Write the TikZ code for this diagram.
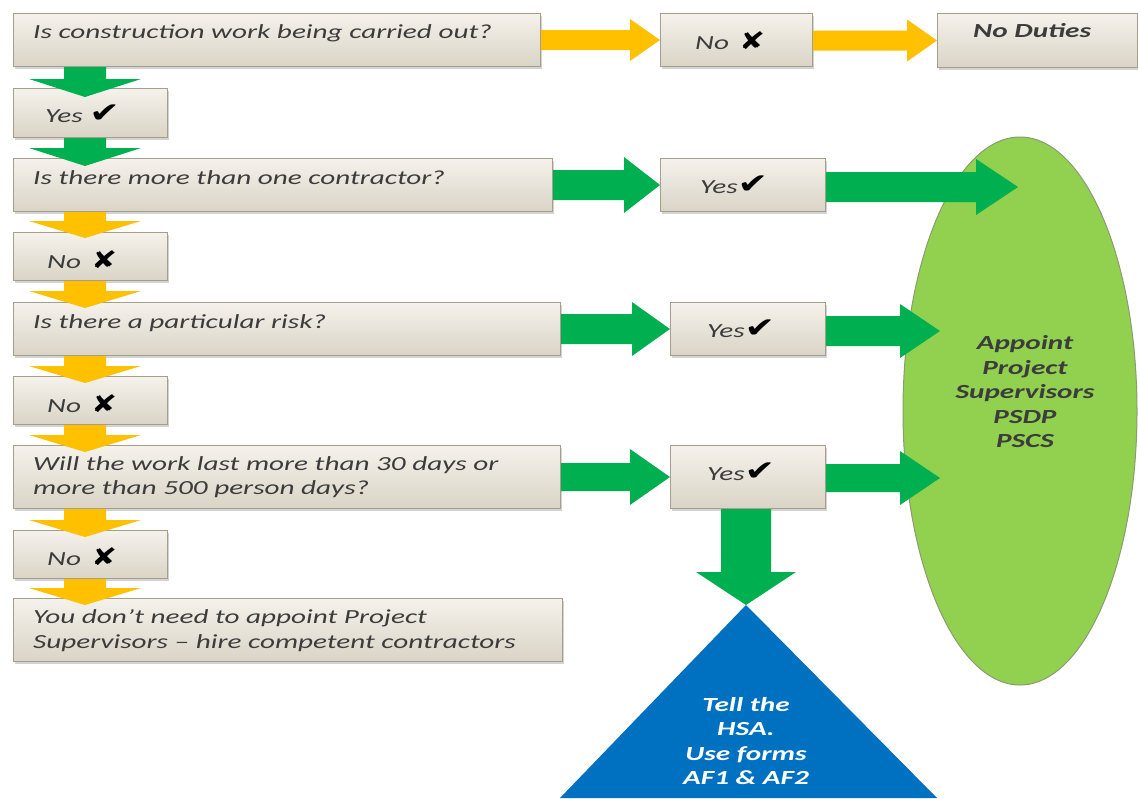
\documentclass[tikz,border=0pt]{standalone}
\usepackage{fontspec}
\setmainfont{Carlito}[FakeStretch=1.46]
\newfontfamily\symf{DejaVu Sans}[FakeStretch=1.3]
\usetikzlibrary{shapes.geometric,shadows,calc}
\definecolor{boxtop}{HTML}{F5F2EC}
\definecolor{boxbot}{HTML}{DAD4C6}
\definecolor{boxline}{HTML}{A59E8A}
\definecolor{oran}{HTML}{FFC000}
\definecolor{gree}{HTML}{00B050}
\definecolor{lime}{HTML}{92D050}
\definecolor{limeline}{HTML}{8C9A72}
\definecolor{blu}{HTML}{0070C0}
\definecolor{tgray}{HTML}{3C3C3C}
\newcommand\ckm{{\symf\fontsize{28}{24}\selectfont\upshape\color{black}✔}}
\newcommand\xmk{{\symf\fontsize{24}{24}\selectfont\upshape\color{black}✘}}
% horizontal block arrow: start, end, shaft half, head half, head length, colour
\newcommand\harr[6]{%
  \fill[#6] let \p1=(#1), \p2=(#2) in
   (\x1,\y2+#3) -- (\x2-#5,\y2+#3) -- (\x2-#5,\y2+#4) -- (\x2,\y2) --
   (\x2-#5,\y2-#4) -- (\x2-#5,\y2-#3) -- (\x1,\y2-#3) -- cycle;}
% vertical (downward) block arrow
\newcommand\varr[6]{%
  \fill[#6] let \p1=(#1), \p2=(#2) in
   (\x2-#3,\y1) -- (\x2-#3,\y2+#5) -- (\x2-#4,\y2+#5) -- (\x2,\y2) --
   (\x2+#4,\y2+#5) -- (\x2+#3,\y2+#5) -- (\x2+#3,\y1) -- cycle;}
\begin{document}
\begin{tikzpicture}[x=1pt,y=-1pt,
  fbox/.style={draw=boxline, line width=1pt, top color=boxtop, bottom color=boxbot,
    drop shadow={shadow xshift=1.5pt,shadow yshift=-2pt,opacity=0.35},
    inner sep=0pt, anchor=north west},
  txt/.style={anchor=base west, inner sep=0pt, text=tgray,
    font=\fontsize{20}{24}\selectfont\itshape},
  btxt/.style={inner sep=0pt, align=center,
    font=\fontsize{20}{24.5}\selectfont\bfseries\itshape}]
\useasboundingbox (0,0) rectangle (1138,798);

% ellipse and triangle
\node[ellipse, draw=limeline, fill=lime, line width=1pt, minimum width=234pt,
  minimum height=548pt, inner sep=0pt] (ell) at (1020,411) {};
\coordinate (tri) at (746,605);
\coordinate (tl) at (560,798);
\coordinate (tr) at (937,798);
\fill[blu] (tri) -- (tr) -- (tl) -- cycle;

% boxes
\node[fbox, minimum width=527pt, minimum height=53pt] (q1) at (13,13) {};
\node[fbox, minimum width=152pt, minimum height=53pt] (no1) at (660,13) {};
\node[fbox, minimum width=200pt, minimum height=54pt] (nd) at (937,13) {};
\node[fbox, minimum width=154pt, minimum height=49pt] (yes1) at (13,88) {};
\node[fbox, minimum width=539pt, minimum height=53pt] (q2) at (13,158) {};
\node[fbox, minimum width=165pt, minimum height=53pt] (yes2) at (660,158) {};
\node[fbox, minimum width=154pt, minimum height=48pt] (no2) at (13,232) {};
\node[fbox, minimum width=547pt, minimum height=53pt] (q3) at (13,302) {};
\node[fbox, minimum width=155pt, minimum height=53pt] (yes3) at (670,302) {};
\node[fbox, minimum width=154pt, minimum height=48pt] (no3) at (13,376) {};
\node[fbox, minimum width=547pt, minimum height=63pt] (q4) at (13,445) {};
\node[fbox, minimum width=155pt, minimum height=63pt] (yes4) at (670,445) {};
\node[fbox, minimum width=154pt, minimum height=48pt] (no4) at (13,530) {};
\node[fbox, minimum width=549pt, minimum height=63pt] (fin) at (13,598) {};

% arrow targets
\coordinate (col) at (85,0);
\coordinate (e1) at (1018,187);
\coordinate (e2) at (940,331);
\coordinate (e3) at (940,478);

% horizontal arrows
\harr{q1.east}{no1.west}{10pt}{21pt}{30pt}{oran}
\harr{no1.east}{nd.west}{10pt}{21pt}{30pt}{oran}
\harr{q2.east}{yes2.west}{15pt}{28pt}{36pt}{gree}
\harr{yes2.east}{e1}{15pt}{28pt}{42pt}{gree}
\harr{q3.east}{yes3.west}{15pt}{27pt}{38pt}{gree}
\harr{yes3.east}{e2}{15pt}{27pt}{40pt}{gree}
\harr{q4.east}{yes4.west}{14pt}{28pt}{40pt}{gree}
\harr{yes4.east}{e3}{14pt}{27pt}{40pt}{gree}

% vertical arrows
\varr{q1.south -| col}{$(yes1.north -| col)+(0,9)$}{21pt}{56pt}{18pt}{gree}
\varr{yes1.south -| col}{$(q2.north -| col)+(0,8)$}{21pt}{56pt}{18pt}{gree}
\varr{q2.south -| col}{$(no2.north -| col)+(0,6)$}{21pt}{56pt}{17pt}{oran}
\varr{no2.south -| col}{$(q3.north -| col)+(0,6)$}{21pt}{56pt}{17pt}{oran}
\varr{q3.south -| col}{$(no3.north -| col)+(0,7)$}{21pt}{56pt}{17pt}{oran}
\varr{no3.south -| col}{$(q4.north -| col)+(0,7)$}{21pt}{56pt}{17pt}{oran}
\varr{q4.south -| col}{$(no4.north -| col)+(0,7)$}{21pt}{56pt}{17pt}{oran}
\varr{no4.south -| col}{$(fin.north -| col)+(0,7)$}{21pt}{56pt}{17pt}{oran}
\varr{yes4.south}{tri}{25pt}{50pt}{33pt}{gree}

% texts
\node[txt] (t1) at (33,38) {Is construction work being carried out?};
\node[txt] (t2) at (695,49) {No\hspace{10pt}\xmk};
\node[txt, font=\fontsize{20}{24}\selectfont\bfseries\itshape] (t3) at (973,37) {No Duties};
\node[txt] (t4) at (45,122) {Yes \ckm};
\node[txt] (t5) at (33,184) {Is there more than one contractor?};
\node[txt] (t6) at (700,193) {Yes\ckm};
\node[txt] (t7) at (47,268) {No\hspace{10pt}\xmk};
\node[txt] (t8) at (33,328) {Is there a particular risk?};
\node[txt] (t9) at (707,337) {Yes\ckm};
\node[txt] (t10) at (47,412) {No\hspace{10pt}\xmk};
\node[txt] (t11) at (33,470) {Will the work last more than 30 days or};
\node[txt] (t12) at (33,494) {more than 500 person days?};
\node[txt] (t13) at (707,480) {Yes\ckm};
\node[txt] (t14) at (47,565) {No\hspace{10pt}\xmk};
\node[txt] (t15) at (33,623) {You don’t need to appoint Project};
\node[txt] (t16) at (33,648) {Supervisors – hire competent contractors};
\node[btxt, text=tgray] (et) at (1025,392) {Appoint\\Project\\Supervisors\\PSDP\\PSCS};
\node[btxt, text=white] (tt) at (746,741) {Tell the\\HSA.\\Use forms\\AF1 \& AF2};
\end{tikzpicture}
\end{document}
